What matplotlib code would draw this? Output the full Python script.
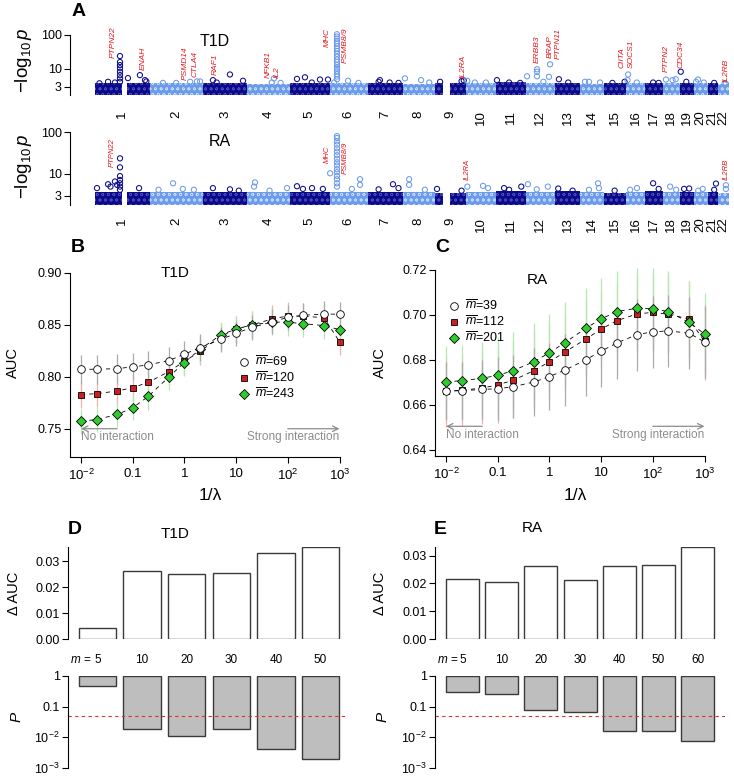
import numpy as np
import matplotlib
matplotlib.use("Agg")
import matplotlib.pyplot as plt
from matplotlib.lines import Line2D

plt.rcParams["font.family"] = ["Liberation Sans", "DejaVu Sans"]
plt.rcParams["mathtext.fontset"] = "custom"
plt.rcParams["mathtext.rm"] = "Liberation Sans"
plt.rcParams["mathtext.it"] = "Liberation Sans:italic"
plt.rcParams["hatch.linewidth"] = 0.5
plt.rcParams["axes.linewidth"] = 0.8

W, H = 734, 778

# ---------------- panel A data (Mb) ----------------
chrom_len = [247, 243, 199, 191, 181, 171, 159, 146, 140, 135, 135,
             132, 114, 106, 100, 89, 79, 76, 64, 62, 47, 50]
chrom_gap = {1: (121, 143), 9: (38, 68)}
band_top_t1d = [3.9, 3.8, 4.0, 3.7, 4.0, 3.8, 3.9, 3.7, 4.0, 3.8, 4.1,
                3.8, 3.9, 3.7, 3.8, 3.8, 4.0, 3.8, 3.9, 3.8, 3.9, 3.7]
band_top_ra = [3.8, 3.8, 3.7, 3.7, 3.8, 3.7, 3.8, 3.7, 3.6, 3.8, 3.9,
               3.7, 3.9, 3.7, 3.6, 3.7, 3.9, 3.7, 3.8, 3.7, 3.7, 3.6]

t1d_chr = [1] * 8 + [1, 1, 1, 1, 1, 1, 1,
           2, 2, 2, 2, 2, 3, 3, 3, 3, 4, 4, 4, 5, 5, 5, 5, 5] + [6] * 19 + [6, 6, 6,
           7, 7, 7, 7, 8, 8, 8, 9, 9, 9, 10, 10, 10, 11, 11, 11,
           12, 12, 12, 12, 12, 12, 12, 13, 13, 14, 14, 14, 15, 15, 16, 16, 16,
           17, 17, 18, 18, 18, 19, 19, 20, 20, 20, 21, 22, 22]
t1d_pos = [113] * 8 + [149, 203, 226, 232, 59, 20, 90,
           183, 214, 228, 60, 120, 43, 120, 179, 60, 120, 110, 150, 33, 69, 137, 173, 100] + [33] * 19 + [83, 20, 130,
           56, 50, 100, 140, 10, 83, 120, 23, 120, 130, 6, 40, 90, 5, 60, 110,
           51, 51, 51, 110, 6, 105, 80, 18, 60, 22, 40, 90, 95, 40, 11, 8, 50,
           35, 60, 14, 44, 58, 5, 30, 19, 10, 45, 30, 36, 30]
t1d_val = [24, 16, 13, 10.5, 8.3, 6.6, 5.3, 4.2] + [5.4, 6.6, 4.7, 4.3, 4.2, 3.8, 4.0,
           4.2, 4.3, 4.3, 3.9, 3.9, 4.7, 6.9, 4.5, 4.0, 5.3, 4.0, 3.9, 5.1, 5.7, 4.9, 4.9, 4.0] + \
          [105, 90, 78, 66, 56, 47, 40, 34, 28, 23, 19, 16, 13, 11, 10, 8.5, 7, 6, 5] + [4.5, 4.0, 3.9,
           4.7, 4.2, 4.0, 3.9, 5.3, 4.7, 4.0, 4.2, 4.4, 4.6, 4.5, 4.0, 4.0, 4.7, 4.0, 3.9,
           9.8, 8.3, 6.1, 13.7, 6.1, 5.9, 4.2, 5.0, 4.0, 4.2, 4.2, 4.0, 4.2, 3.9, 6.9, 4.7, 4.0,
           4.0, 3.9, 4.9, 4.7, 5.0, 8.3, 4.2, 4.9, 4.2, 4.0, 3.9, 3.7, 3.8]

ra_chr = [1] * 7 + [1, 1, 1, 1, 1, 1, 2, 2, 2, 2, 3, 3, 3, 4, 4, 4, 4, 5, 5, 5, 5] + [6] * 16 + [6, 6, 6, 6,
          7, 7, 7, 8, 8, 8, 9, 9, 10, 10, 10, 11, 11, 11, 12, 12, 12, 13, 13,
          14, 14, 14, 15, 16, 16, 17, 17, 18, 18, 19, 19, 20, 20, 21, 21, 22, 22]
ra_pos = [113] * 7 + [59, 90, 9, 199, 70, 100, 106, 150, 40, 200, 43, 120, 160, 34, 30, 179, 100,
          33, 101, 60, 150] + [33] * 16 + [2, 137, 137, 100,
          115, 50, 140, 29, 29, 100, 9, 120, 6, 77, 100, 37, 115, 60, 10, 100, 50, 15, 80,
          81, 85, 40, 50, 51, 20, 35, 60, 33, 60, 43, 20, 40, 20, 38, 30, 36, 36]
ra_val = [23.6, 14.4, 8.9, 7.2, 6.0, 5.0, 4.2] + [5.7, 6.6, 4.6, 4.6, 5.0, 5.5, 6.0, 4.4, 4.2, 4.2,
          4.6, 4.3, 4.0, 6.3, 5.0, 4.6, 4.0, 5.1, 4.6, 4.4, 4.4] + \
         [80, 72, 60, 50, 41, 34, 28, 23, 19, 16, 13, 11, 9, 7.5, 6, 5] + [10.4, 7.5, 5.5, 4.4,
          5.7, 4.3, 4.6, 7.5, 5.5, 4.2, 4.4, 4.0, 5.0, 5.2, 4.6, 4.6, 5.0, 4.2, 5.7, 5.0, 4.3, 4.5, 4.0,
          6.0, 4.6, 4.2, 4.0, 4.6, 4.2, 6.0, 4.4, 5.0, 4.2, 4.5, 4.4, 4.4, 4.0, 5.9, 4.2, 5.4, 4.4]

# gene labels: genome-wide position (Mb) and value at text bottom
t1d_genes = ["PTPN22", "ENAH", "PSMD14", "CTLA4", "RAF1", "NFKB1", "IL2", "MHC", "PSMB8/9",
             "IL2RA", "ERBB3", "BRAP", "PTPN11", "CIITA", "SOCS1", "PTPN2", "CDC34", "IL2RB"]
t1d_gene_mb = [81, 217, 407, 452, 542, 782, 823, 1049, 1130,
               1664, 1998, 2057, 2093, 2382, 2423, 2581, 2649, 2853]
t1d_gene_y = [21, 9.4, 4.7, 5.8, 6.6, 5.4, 5.4, 44, 15,
              5.4, 15, 21, 20, 10.7, 10.7, 8.2, 10.7, 4.2]
ra_genes = ["PTPN22", "MHC", "PSMB8/9", "IL2RA", "IL2RB"]
ra_gene_mb = [77, 1049, 1130, 1682, 2853]
ra_gene_y = [14.7, 18.3, 10.0, 7.2, 7.2]

# ---------------- panels B/C data ----------------
lam_inv = [0.01, 0.02, 0.05, 0.1, 0.2, 0.5, 1, 2, 5, 10, 20, 50, 100, 200, 500, 1000]

auc_b_69 = [0.8074, 0.8074, 0.8080, 0.8097, 0.8116, 0.8158, 0.8219, 0.8281,
            0.8361, 0.8419, 0.8477, 0.8529, 0.8574, 0.8593, 0.8606, 0.8603]
auc_b_120 = [0.7831, 0.7839, 0.7865, 0.7897, 0.7948, 0.8052, 0.8150, 0.8245,
             0.8390, 0.8460, 0.8500, 0.8558, 0.8587, 0.8584, 0.8571, 0.8339]
auc_b_243 = [0.7574, 0.7590, 0.7639, 0.7703, 0.7813, 0.8000, 0.8139, 0.8265,
             0.8403, 0.8461, 0.8500, 0.8529, 0.8526, 0.8513, 0.8494, 0.8455]
err_b_69 = [0.014, 0.014, 0.014, 0.013, 0.013, 0.013, 0.013, 0.013,
            0.012, 0.012, 0.012, 0.012, 0.012, 0.012, 0.012, 0.012]
err_b_120 = [0.013, 0.013, 0.013, 0.013, 0.013, 0.013, 0.013, 0.013,
             0.013, 0.013, 0.013, 0.013, 0.013, 0.013, 0.013, 0.013]
err_b_243 = [0.012, 0.012, 0.012, 0.012, 0.013, 0.013, 0.013, 0.013,
             0.013, 0.013, 0.013, 0.013, 0.013, 0.013, 0.013, 0.013]

auc_c_39 = [0.6663, 0.6663, 0.6669, 0.6672, 0.6681, 0.6702, 0.6726, 0.6755,
            0.6800, 0.6839, 0.6875, 0.6913, 0.6925, 0.6929, 0.6919, 0.6880]
auc_c_112 = [0.6660, 0.6665, 0.6675, 0.6689, 0.6710, 0.6752, 0.6792, 0.6835,
             0.6892, 0.6937, 0.6974, 0.7005, 0.7011, 0.7003, 0.6982, 0.6883]
auc_c_201 = [0.6704, 0.6707, 0.6719, 0.6731, 0.6753, 0.6792, 0.6832, 0.6877,
             0.6940, 0.6982, 0.7015, 0.7030, 0.7027, 0.7015, 0.6967, 0.6916]
err_c_39 = [0.013, 0.013, 0.013, 0.014, 0.014, 0.015, 0.015, 0.016,
            0.016, 0.016, 0.016, 0.016, 0.016, 0.016, 0.016, 0.016]
err_c_112 = [0.016, 0.016, 0.016, 0.017, 0.017, 0.017, 0.017, 0.017,
             0.017, 0.017, 0.017, 0.017, 0.017, 0.017, 0.017, 0.017]
err_c_201 = [0.016, 0.016, 0.016, 0.017, 0.017, 0.017, 0.017, 0.018,
             0.018, 0.018, 0.018, 0.018, 0.018, 0.018, 0.018, 0.018]

# ---------------- panels D/E data ----------------
m_d = [5, 10, 20, 30, 40, 50]
dauc_d = [0.0041, 0.0262, 0.0250, 0.0255, 0.0333, 0.0355]
p_d = [0.485, 0.019, 0.0107, 0.0185, 0.0041, 0.0020]
m_e = [5, 10, 20, 30, 40, 50, 60]
dauc_e = [0.0216, 0.0205, 0.0263, 0.0212, 0.0263, 0.0265, 0.0331]
p_e = [0.31, 0.25, 0.076, 0.069, 0.016, 0.016, 0.0074]

DARK = "#0A0A8A"
LIGHT = "#6B9BEA"
DARK_SPECK = "#4A4AB8"
LIGHT_SPECK = "#C4D8F8"
TICK_FS = 9


def px(l, t, r, b):
    return [l / W, 1 - b / H, (r - l) / W, (b - t) / H]


def ftext(x, y, s, **kw):
    fig.text(x / W, 1 - y / H, s, **kw)


def style_axis(ax):
    for s in ["top", "right"]:
        ax.spines[s].set_visible(False)
    ax.tick_params(direction="out", length=4, width=0.8, labelsize=TICK_FS, pad=2)
    ax.minorticks_off()


fig = plt.figure(figsize=(W / 100, H / 100), dpi=100)

# ---------------- panel A ----------------
starts = np.concatenate([[0], np.cumsum(chrom_len)[:-1]])
centers = starts + np.array(chrom_len) / 2
total = sum(chrom_len)
mb_per_px = total / (729 - 95)


def manhattan(rect, ylo, yhi, band_top, chrs, pos, vals, genes, gmb, gy, title, title_xy, gfs, lab_pad):
    ax = fig.add_axes(px(*rect))
    ax.set_yscale("log")
    ax.set_ylim(ylo, yhi)
    ax.set_xlim(-(95 - rect[0]) * mb_per_px, total + (rect[2] - 729) * mb_per_px)
    for i in range(22):
        col, speck = (DARK, DARK_SPECK) if i % 2 == 0 else (LIGHT, LIGHT_SPECK)
        segs = [(0, chrom_len[i])]
        if i + 1 in chrom_gap:
            g = chrom_gap[i + 1]
            segs = [(0, g[0]), (g[1], chrom_len[i])]
        for a, b in segs:
            ax.fill_between([starts[i] + a, starts[i] + b], ylo, band_top[i],
                            facecolor=col, edgecolor=speck, hatch="ooo", lw=0)
    chrs = np.array(chrs)
    xs = starts[chrs - 1] + np.array(pos)
    cols = [DARK if c % 2 == 1 else LIGHT for c in chrs]
    ax.scatter(xs, vals, s=14, facecolors="none", edgecolors=cols, linewidths=0.75, clip_on=False)
    for g, x, y in zip(genes, gmb, gy):
        ax.text(x, y, g, rotation=90, va="bottom", ha="center", color="#E8151B",
                style="italic", fontsize=gfs)
    for s in ["top", "right", "bottom"]:
        ax.spines[s].set_visible(False)
    ax.spines["left"].set_bounds(ylo, 100)
    ax.set_yticks([3, 10, 100], ["3", "10", "100"])
    ax.tick_params(axis="y", direction="out", length=4, width=0.8, labelsize=TICK_FS, pad=2)
    ax.minorticks_off()
    ax.set_xticks(centers, [str(i + 1) for i in range(22)], rotation=90)
    ax.tick_params(axis="x", length=0, labelsize=9.5, pad=lab_pad)
    ftext(title_xy[0], title_xy[1], title, ha="center", va="center", fontsize=11.5)
    return ax


manhattan((70, 30, 730, 95), 1.72, 140, band_top_t1d, t1d_chr, t1d_pos, t1d_val,
          t1d_genes, t1d_gene_mb, t1d_gene_y, "T1D", (215, 42), 6, 11)
manhattan((70, 130, 730, 205), 1.82, 112, band_top_ra, ra_chr, ra_pos, ra_val,
          ra_genes, ra_gene_mb, ra_gene_y, "RA", (220, 142), 5.5, 9)

ylab_a = r"$-\mathrm{log}_{10}\,\mathit{p}$"
ftext(23, 60, ylab_a, rotation=90, ha="center", va="center", fontsize=13.5)
ftext(23, 166, ylab_a, rotation=90, ha="center", va="center", fontsize=13.5)


# ---------------- panels B, C ----------------
def auc_panel(rect, x_first, ylim, yticks, ylabels, series, errs, legend_labels, leg_xy,
              arrow_y, title, title_xy, ylab_x):
    ax = fig.add_axes(px(*rect))
    ax.set_xscale("log")
    dec = 51.7
    ax.set_xlim(10 ** (-2 - (x_first - rect[0]) / dec),
                10 ** (-2 + (rect[2] - x_first) / dec))
    ax.set_ylim(*ylim)
    ecols = ["#ABABAB", "#F4B0B0", "#B0EAB0"]
    order = [1, 2, 0]
    for k in order:
        y = np.array(series[k])
        e = np.array(errs[k])
        ax.vlines(lam_inv, y - e, y + e, color=ecols[k], lw=0.9, zorder=1)
    for k in order:
        ax.plot(lam_inv, series[k], color="black", lw=0.6, ls=(0, (5, 5)), zorder=2)
    mk = [dict(marker="o", mfc="white", ms=5.5),
          dict(marker="s", mfc="#CC1F1F", ms=4.8),
          dict(marker="D", mfc="#2FCC2F", ms=5.0)]
    for k in order:
        ax.plot(lam_inv, series[k], ls="none", mec="black", mew=0.6, zorder=3, **mk[k])
    handles = [Line2D([], [], ls="none", mec="black", mew=0.6, **mk[k]) for k in range(3)]
    ax.legend(handles, legend_labels, loc="upper left", bbox_to_anchor=(leg_xy[0] / W, 1 - leg_xy[1] / H),
              bbox_transform=fig.transFigure, frameon=False, fontsize=9, borderpad=0,
              handlelength=0.8, handletextpad=0.5, labelspacing=0.15, borderaxespad=0)
    ax.annotate("", xy=(0.01, arrow_y), xytext=(0.05, arrow_y),
                arrowprops=dict(arrowstyle="->", color="#8C8C8C", lw=0.9, shrinkA=0, shrinkB=0))
    ax.annotate("", xy=(1000, arrow_y), xytext=(100, arrow_y),
                arrowprops=dict(arrowstyle="->", color="#8C8C8C", lw=0.9, shrinkA=0, shrinkB=0))
    dy = (ylim[1] - ylim[0]) * 0.012
    ax.text(0.01, arrow_y - dy, "No interaction", ha="left", va="top", color="#8C8C8C", fontsize=8.5)
    ax.text(1000, arrow_y - dy, "Strong interaction", ha="right", va="top", color="#8C8C8C", fontsize=8.5)
    style_axis(ax)
    ax.spines["left"].set_bounds(ylim[0], yticks[-1])
    ax.spines["bottom"].set_bounds(ax.get_xlim()[0], 1000)
    ax.set_yticks(yticks, ylabels)
    ax.set_xticks([0.01, 0.1, 1, 10, 100, 1000],
                  [r"$10^{-2}$", "0.1", "1", "10", r"$10^{2}$", r"$10^{3}$"])
    ax.tick_params(axis="x", pad=4, labelsize=9.5)
    ax.minorticks_off()
    ftext(title_xy[0], title_xy[1], title, ha="center", va="center", fontsize=11)
    ftext(ylab_x, 363, "AUC", rotation=90, ha="center", va="center", fontsize=10.5)
    ftext(x_first + 2.5 * dec, 495, "1/λ", ha="center", va="center", fontsize=12.5)
    return ax


auc_panel((70, 268, 345, 457), 81, (0.723, 0.9048), [0.75, 0.80, 0.85, 0.90],
          ["0.75", "0.80", "0.85", "0.90"],
          [auc_b_69, auc_b_120, auc_b_243], [err_b_69, err_b_120, err_b_243],
          [r"$\overline{m}$=69", r"$\overline{m}$=120", r"$\overline{m}$=243"],
          (239, 355), 0.7502, "T1D", (175, 273), 13)
auc_panel((435, 265, 712, 456), 446, (0.6373, 0.7222), [0.64, 0.66, 0.68, 0.70, 0.72],
          ["0.64", "0.66", "0.68", "0.70", "0.72"],
          [auc_c_39, auc_c_112, auc_c_201], [err_c_39, err_c_112, err_c_201],
          [r"$\overline{m}$=39", r"$\overline{m}$=112", r"$\overline{m}$=201"],
          (449, 299), 0.6505, "RA", (537, 280), 380)


# ---------------- panels D, E ----------------
def bar_panel(left, right, first_center, step, ms, dauc, pvals, width, title, title_xy, ylab_x):
    n = len(ms)
    ax1 = fig.add_axes(px(left, 547, right, 639))
    ax2 = fig.add_axes(px(left, 676, right, 768))
    x = np.arange(n)
    xl = ((left - first_center) / step, (right - first_center) / step)
    for ax in (ax1, ax2):
        ax.set_xlim(*xl)
        style_axis(ax)
        ax.spines["bottom"].set_visible(False)
        ax.set_xticks([])
    ax1.bar(x, dauc, width=width, color="white", edgecolor="#3A3A3A", lw=1.0)
    ax1.set_ylim(0, max(dauc))
    ax1.set_yticks([0, 0.01, 0.02, 0.03], ["0.00", "0.01", "0.02", "0.03"])
    ax2.bar(x, 1 - np.array(pvals), bottom=pvals, width=width, color="#BEBEBE",
            edgecolor="#3A3A3A", lw=1.0)
    ax2.axhline(0.05, color="#E0302A", lw=0.8, ls=(0, (3, 3)))
    ax2.set_yscale("log")
    ax2.set_ylim(1e-3, 1)
    ax2.set_yticks([1, 0.1, 0.01, 0.001], ["1", "0.1", r"$10^{-2}$", r"$10^{-3}$"])
    ax2.minorticks_off()
    for xi, m in zip(x, ms):
        ax2.text(xi, 1.17, str(m), transform=ax2.get_xaxis_transform(), ha="center",
                 va="center", fontsize=8.5)
    ax2.text(xl[0] + 0.05, 1.17, r"$m$ =", transform=ax2.get_xaxis_transform(),
             ha="left", va="center", fontsize=8.5)
    ftext(title_xy[0], title_xy[1], title, ha="center", va="center", fontsize=11)
    ftext(ylab_x, 593, "Δ AUC", rotation=90, ha="center", va="center", fontsize=10.5)
    ftext(ylab_x + 3, 717, r"$P$", rotation=90, ha="center", va="center", fontsize=11)


bar_panel(68, 348, 97.5, 44.6, m_d, dauc_d, p_d, 0.84, "T1D", (175, 534), 14)
bar_panel(435, 725, 462.5, 39.2, m_e, dauc_e, p_e, 0.84, "RA", (532, 528), 380)

# panel letters
for lab, (x, y) in zip("ABCDE", [(79, 12), (78, 248), (442, 248), (75, 529), (440, 529)]):
    ftext(x, y, lab, ha="center", va="center", fontsize=14, fontweight="bold")

fig.savefig("out.png", dpi=100)
